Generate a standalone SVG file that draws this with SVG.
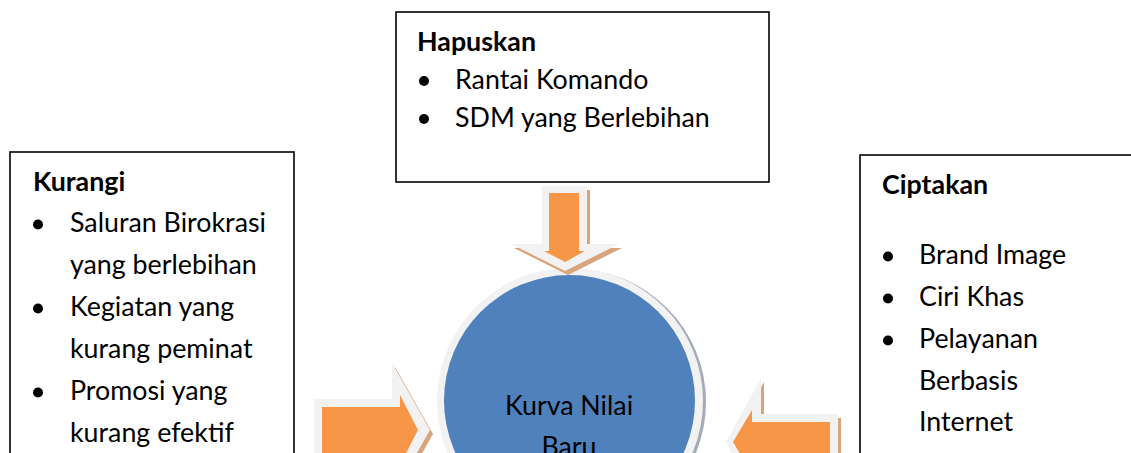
<svg xmlns="http://www.w3.org/2000/svg" width="1131" height="453" viewBox="0 0 1131 453">
<style>
text{font-family:Lato,"Open Sans","Liberation Sans",sans-serif;font-size:26.8px;fill:#000}
.b{font-weight:bold}
.box{fill:#fff;stroke:#000;stroke-width:1.6}
.glow{fill:#f2f2f2}
.sh{fill:#d6a57c}
.or{fill:#f79646}
</style>
<rect width="1131" height="453" fill="#fff"/>

<g id="node-hapuskan">
<rect class="box" x="396" y="12" width="373" height="170"/>
<text class="b" x="417" y="51">Hapuskan</text>
<circle cx="424" cy="81" r="5"/>
<text x="455" y="89">Rantai Komando</text>
<circle cx="424" cy="119" r="5"/>
<text x="455" y="127">SDM yang Berlebihan</text>
</g>

<g id="node-kurangi">
<rect class="box" x="10" y="152" width="284" height="320"/>
<text class="b" x="33" y="191">Kurangi</text>
<circle cx="38" cy="224.5" r="5"/>
<text x="70" y="232">Saluran Birokrasi</text>
<text x="70" y="274">yang berlebihan</text>
<circle cx="38" cy="308.5" r="5"/>
<text x="70" y="316">Kegiatan yang</text>
<text x="70" y="358">kurang peminat</text>
<circle cx="38" cy="392.5" r="5"/>
<text x="70" y="400">Promosi yang</text>
<text x="70" y="442">kurang efektif</text>
</g>

<g id="node-ciptakan">
<rect class="box" x="860" y="155" width="290" height="320"/>
<text class="b" x="882" y="194">Ciptakan</text>
<circle cx="888" cy="256.5" r="5"/>
<text x="919" y="264">Brand Image</text>
<circle cx="888" cy="298.5" r="5"/>
<text x="919" y="306">Ciri Khas</text>
<circle cx="888" cy="340.5" r="5"/>
<text x="919" y="348">Pelayanan</text>
<text x="919" y="390">Berbasis</text>
<text x="919" y="431">Internet</text>
</g>

<g id="node-kurva">
<circle cx="573" cy="402" r="133" fill="#a3abb9"/>
<circle cx="570" cy="401" r="133" fill="#f2f2f2"/>
<circle cx="569.5" cy="400.5" r="125.5" fill="#4f81bd"/>
<text x="569" y="415" text-anchor="middle">Kurva Nilai</text>
<text x="569" y="456" text-anchor="middle">Baru</text>
</g>

<g id="connectors">
<g id="arrow-top">
<polygon class="sh" transform="translate(3,4)" points="542,186 587,186 587,244 619,244 565,271 511,244 542,244"/>
<polygon class="glow" points="542,186 587,186 587,244 619,244 565,271 511,244 542,244"/>
<polygon class="or" points="549,193 579,193 579,251 585,251 565,262 544,251 549,251"/>
</g>
<g id="arrow-left">
<polygon class="sh" transform="translate(3,4)" points="314,399 392,399 392,363 430,430 392,497 392,461 314,461"/>
<polygon class="glow" points="314,399 392,399 392,363 430,430 392,497 392,461 314,461"/>
<polygon class="or" points="322,407 400,407 400,395 418,430 400,465 400,453 322,453"/>
</g>
<g id="arrow-right">
<polygon class="sh" transform="translate(3,4)" points="838,414 761,414 761,378 726,442 761,506 761,470 838,470"/>
<polygon class="glow" points="838,414 761,414 761,378 726,442 761,506 761,470 838,470"/>
<polygon class="or" points="830,422 752,422 752,410 733,442 752,474 752,462 830,462"/>
</g>
</g>
</svg>
